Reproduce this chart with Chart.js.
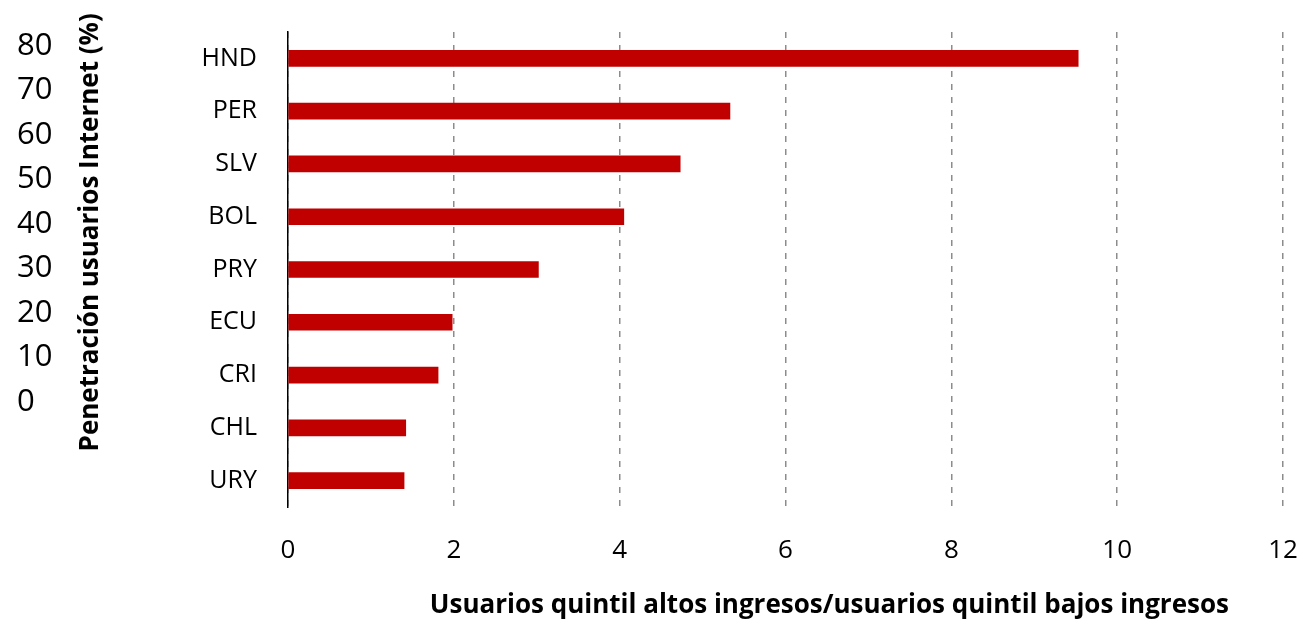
<!DOCTYPE html>
<html>
<head>
<meta charset="utf-8">
<script src="https://cdn.jsdelivr.net/npm/chart.js@4"></script>
<style>
  body { margin: 0; background: #fff; }
  canvas { display: block; }
</style>
</head>
<body>
<canvas id="myChart" width="1304" height="623"></canvas>
<script>
// datos
const countries = ['HND', 'PER', 'SLV', 'BOL', 'PRY', 'ECU', 'CRI', 'CHL', 'URY'];
const ratios = [9.53, 5.33, 4.73, 4.05, 3.02, 1.98, 1.81, 1.42, 1.40];
const xTicks = [0, 2, 4, 6, 8, 10, 12];
const penetrationTicks = [0, 10, 20, 30, 40, 50, 60, 70, 80];

const barColor = '#c00000';
const fontFamily = "'Open Sans', sans-serif";

var ctx = document.getElementById('myChart').getContext('2d');

var myChart = new Chart(ctx, {
  type: 'bar',
  data: {
    labels: countries,
    datasets: [{
      label: '',
      data: ratios,
      backgroundColor: barColor,
      borderWidth: 0,
      barThickness: 16,
      yAxisID: 'y',
    }],
  },
  options: {
    indexAxis: 'y',
    responsive: false,
    maintainAspectRatio: false,
    animation: false,
    layout: {
      padding: { left: 17, right: 21, top: 32, bottom: 0 },
    },
    plugins: {
      legend: { display: false },
      tooltip: { enabled: false },
    },
    scales: {
      x: {
        type: 'linear',
        min: 0,
        max: 12,
        afterBuildTicks: function (scale) {
          scale.ticks = xTicks.map(v => ({ value: v }));
        },
        afterFit: function (scale) {
          scale.height = 116;
          scale.paddingLeft = 0;
          scale.paddingRight = 0;
        },
        grid: {
          color: '#8c8c8c',
          lineWidth: 1.5,
          drawTicks: false,
        },
        // líneas de rejilla punteadas
        border: { display: false, dash: [6, 7] },
        ticks: {
          color: '#000',
          padding: 28,
          font: { family: fontFamily, size: 26 },
        },
        title: {
          display: true,
          text: '             Usuarios quintil altos ingresos/usuarios quintil bajos ingresos',
          color: '#000',
          padding: { top: 0, bottom: 2 },
          font: { family: fontFamily, size: 26, weight: 'bold' },
        },
      },
      // eje sobrante de penetración (solo etiquetas)
      y2: {
        type: 'linear',
        position: 'left',
        weight: 2,
        offset: false,
        bounds: 'data',
        min: -23.6,
        max: 83.1,
        afterBuildTicks: function (scale) {
          scale.ticks = penetrationTicks.map(v => ({ value: v }));
        },
        afterFit: function (scale) {
          scale.width = 58;
          scale.paddingTop = 0;
          scale.paddingBottom = 0;
        },
        grid: { display: false, drawTicks: false },
        border: { display: false },
        ticks: {
          crossAlign: 'far',
          color: '#000',
          font: { family: fontFamily, size: 31 },
        },
      },
      y: {
        type: 'category',
        position: 'left',
        weight: 1,
        afterFit: function (scale) {
          scale.width = 213;
          scale.paddingTop = 0;
          scale.paddingBottom = 0;
        },
        grid: { display: false, drawTicks: false },
        border: { display: true, color: '#000', width: 1.5 },
        ticks: {
          color: '#000',
          padding: 31,
          font: { family: fontFamily, size: 25 },
        },
        title: {
          display: true,
          text: '           Penetración usuarios Internet (%)',
          color: '#000',
          padding: { top: 0, bottom: 0 },
          font: { family: fontFamily, size: 26, weight: 'bold' },
        },
      },
    },
  },
});
</script>
</body>
</html>
